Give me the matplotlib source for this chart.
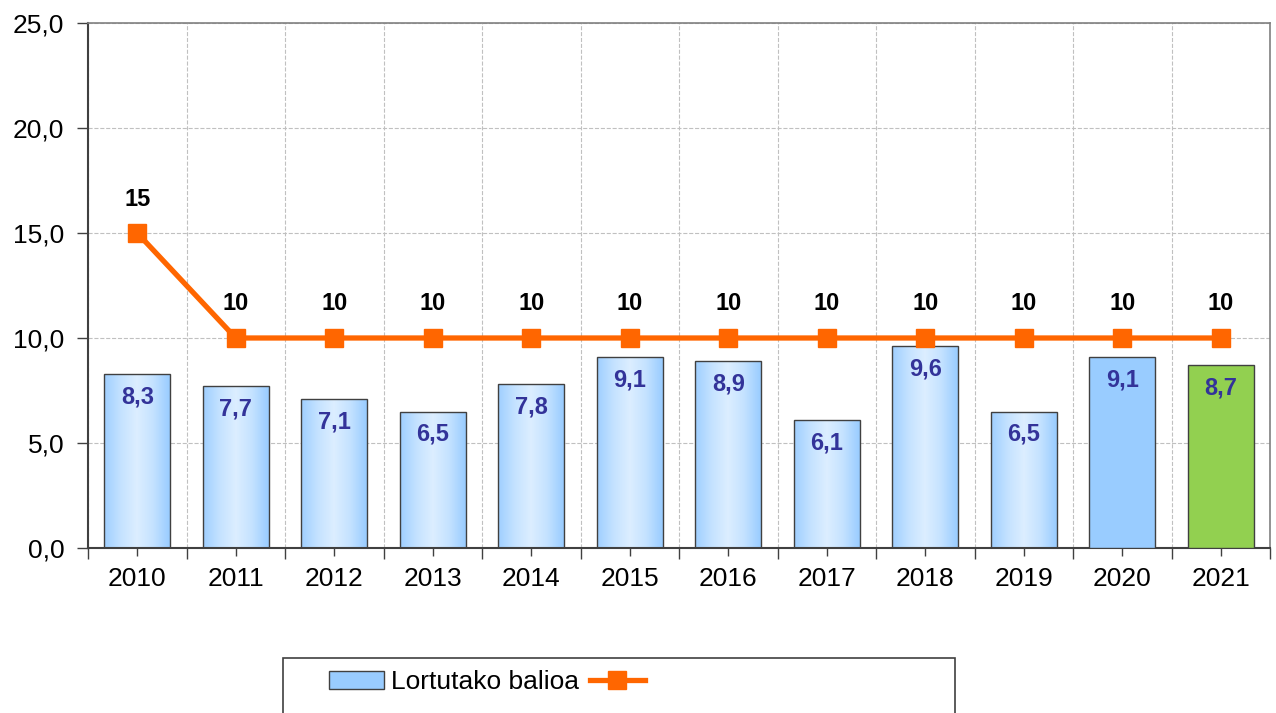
import matplotlib.pyplot as plt
import numpy as np
from matplotlib.colors import LinearSegmentedColormap
from matplotlib.patches import Rectangle, Patch
from matplotlib.lines import Line2D

years = ['2010', '2011', '2012', '2013', '2014', '2015',
         '2016', '2017', '2018', '2019', '2020', '2021']
values = [8.3, 7.7, 7.1, 6.5, 7.8, 9.1, 8.9, 6.1, 9.6, 6.5, 9.1, 8.7]
target = [15, 10, 10, 10, 10, 10, 10, 10, 10, 10, 10, 10]
legend_label = 'Lortutako balioa'

plt.rcParams['font.family'] = ['Liberation Sans', 'DejaVu Sans']

fig = plt.figure(figsize=(12.76, 7.13), dpi=100)
ax = fig.add_axes([88/1276, 1 - 548/713, (1270 - 88)/1276, (548 - 23)/713])

x = np.arange(len(years))
bw = 0.67
bars = ax.bar(x, values, width=bw, color='#99CCFF', edgecolor='#404040',
              linewidth=1.0, zorder=3)

# horizontal gradient fill for the older bars
grad = LinearSegmentedColormap.from_list(
    'g', ['#9FCFFF', '#C4E2FF', '#DCEEFF', '#C4E2FF', '#99CCFF'])
gvals = np.linspace(0, 1, 200).reshape(1, -1)
for i, b in enumerate(bars):
    if i < 10:
        b.set_facecolor('none')
        im = ax.imshow(gvals, cmap=grad, aspect='auto',
                       extent=[b.get_x(), b.get_x() + bw, 0, b.get_height()],
                       zorder=2.5)
        im.set_clip_path(b)
bars[10].set_facecolor('#99CCFF')
bars[11].set_facecolor('#92D050')

for i, v in enumerate(values):
    ax.annotate(('%.1f' % v).replace('.', ','), (x[i], v), xytext=(0, -23),
                textcoords='offset pixels',
                ha='center', va='center', fontsize=17, fontweight='bold',
                color='#333399', zorder=5)

ax.plot(x, target, color='#FF6600', linewidth=3.8, marker='s', markersize=13,
        zorder=4)
for i, t in enumerate(target):
    ax.annotate(str(t), (x[i], t), xytext=(0, 34), textcoords='offset pixels',
                ha='center', va='center', fontsize=17, fontweight='bold',
                color='black', zorder=5)

ax.set_xlim(-0.5, len(years) - 0.5)
ax.set_ylim(0, 25)
ax.set_yticks(np.arange(0, 26, 5))
ax.set_yticklabels([('%.1f' % t).replace('.', ',') for t in np.arange(0, 26, 5)],
                   fontsize=19)
ax.set_xticks(x)
ax.set_xticklabels(years, fontsize=19)
ax.set_xticks(np.arange(-0.5, len(years), 1), minor=True)
ax.tick_params(axis='x', which='major', length=6, width=1, color='#404040', pad=8)
ax.tick_params(axis='x', which='minor', length=8, width=1, color='#404040')
ax.tick_params(axis='y', length=8, width=1, color='#404040', pad=9)

ax.grid(axis='y', which='major', linestyle='--', color='#C0C0C0', linewidth=0.8, zorder=0)
ax.grid(axis='x', which='minor', linestyle='--', color='#C0C0C0', linewidth=0.8, zorder=0)
ax.set_axisbelow(True)

for s in ['left', 'bottom']:
    ax.spines[s].set_color('#404040')
    ax.spines[s].set_linewidth(1.5)
for s in ['top', 'right']:
    ax.spines[s].set_color('#808080')
    ax.spines[s].set_linewidth(1.2)

# legend with a frame that runs past the bottom of the figure
fig.patches.append(Rectangle((283/1276, -0.05), (955 - 283)/1276, 0.05 + (713 - 658)/713,
                             transform=fig.transFigure, fill=False,
                             edgecolor='#404040', linewidth=1.2))
handles = [Patch(facecolor='#99CCFF', edgecolor='#404040', label=legend_label),
           Line2D([], [], color='#FF6600', linewidth=3.8, marker='s',
                  markersize=13, label='')]
fig.legend(handles=handles, loc='center left', bbox_to_anchor=(329/1276, 1 - 682/713),
           ncol=2, frameon=False, fontsize=19, handlelength=2.1, handleheight=0.7,
           handletextpad=0.25, columnspacing=0.4, borderpad=0, borderaxespad=0)

fig.savefig('out.png', dpi=100)
